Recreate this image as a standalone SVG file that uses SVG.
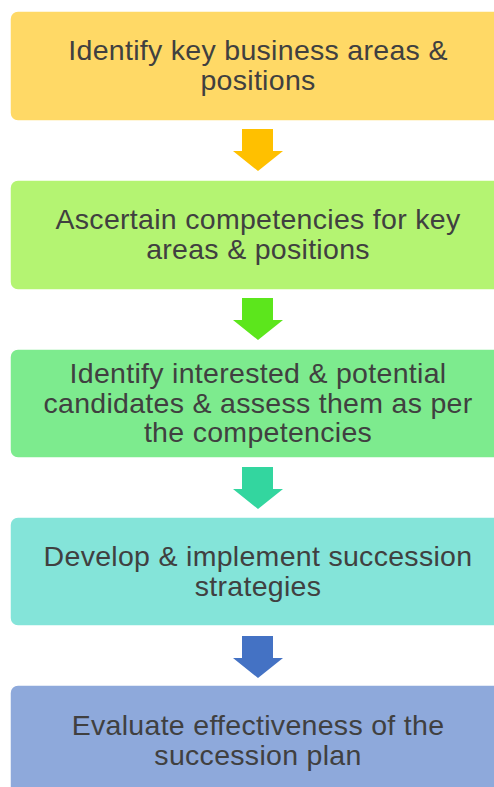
<svg xmlns="http://www.w3.org/2000/svg" width="494" height="787" viewBox="0 0 494 787">
<style>
.box{stroke:#ffffff;stroke-width:1.5}
.t{font-family:"Liberation Sans",Arial,sans-serif;font-size:28.5px;letter-spacing:0.3px;fill:#404040;text-anchor:middle}
</style>
<rect width="494" height="787" fill="#ffffff"/>
<g id="connectors">
<path d="M242,129 H273 V151 H283 L258,171 L233,151 H242 Z" fill="#FFC000"/>
<path d="M242,298 H273 V320 H283 L258,340 L233,320 H242 Z" fill="#5CE61C"/>
<path d="M242,467 H273 V489 H283 L258,509 L233,489 H242 Z" fill="#33D69F"/>
<path d="M242,636 H273 V658 H283 L258,678 L233,658 H242 Z" fill="#4472C4"/>
</g>
<g id="node1">
<rect x="10" y="11" width="500" height="110" rx="8" fill="#FFD966" class="box"/>
<text class="t" x="258" y="60">Identify key business areas &amp;</text>
<text class="t" x="258" y="90">positions</text>
</g>
<g id="node2">
<rect x="10" y="180" width="500" height="110" rx="8" fill="#B4F472" class="box"/>
<text class="t" x="258" y="229">Ascertain competencies for key</text>
<text class="t" x="258" y="259">areas &amp; positions</text>
</g>
<g id="node3">
<rect x="10" y="349" width="500" height="109" rx="8" fill="#7DEB8E" class="box"/>
<text class="t" x="258" y="383">Identify interested &amp; potential</text>
<text class="t" x="258" y="413">candidates &amp; assess them as per</text>
<text class="t" x="258" y="442">the competencies</text>
</g>
<g id="node4">
<rect x="10" y="517" width="500" height="109" rx="8" fill="#84E4D9" class="box"/>
<text class="t" x="258" y="566">Develop &amp; implement succession</text>
<text class="t" x="258" y="596">strategies</text>
</g>
<g id="node5">
<rect x="10" y="685" width="500" height="120" rx="8" fill="#8EA9DB" class="box"/>
<text class="t" x="258" y="735">Evaluate effectiveness of the</text>
<text class="t" x="258" y="765">succession plan</text>
</g>
</svg>
